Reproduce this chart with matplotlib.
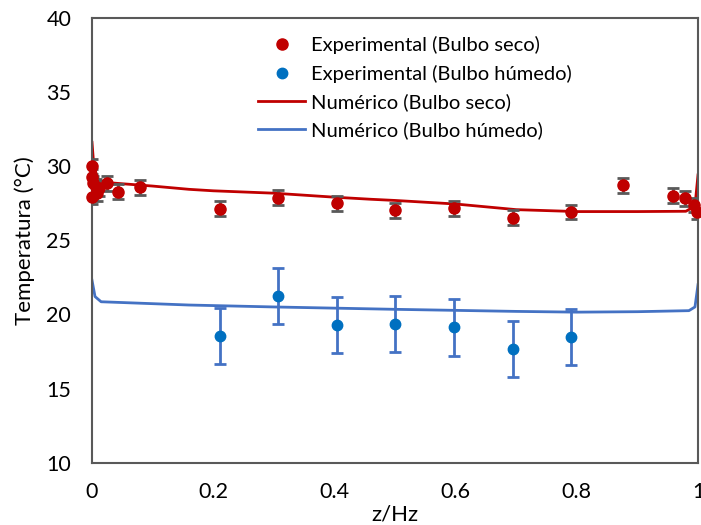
import matplotlib
matplotlib.use("Agg")
import matplotlib.pyplot as plt

plt.rcParams['font.family'] = ['Lato', 'DejaVu Sans']

# Experimental dry-bulb measurements
z_seco = [0.0, 0.0, 0.002, 0.006, 0.012, 0.0005, 0.009, 0.025, 0.043, 0.080,
          0.211, 0.307, 0.404, 0.500, 0.597, 0.694, 0.790, 0.877, 0.959, 0.978,
          0.994, 0.999]
t_seco = [29.97, 29.28, 28.83, 28.60, 28.50, 27.93, 28.16, 28.83, 28.27, 28.56,
          27.12, 27.86, 27.49, 27.03, 27.15, 26.51, 26.90, 28.70, 28.00, 27.82,
          27.37, 26.92]
err_seco = 0.5

# Experimental wet-bulb measurements
z_humedo = [0.211, 0.307, 0.404, 0.500, 0.597, 0.694, 0.790]
t_humedo = [18.54, 21.25, 19.30, 19.35, 19.12, 17.68, 18.47]
err_humedo = 1.9

# Numerical profiles
z_num_seco = [0.0, 0.003, 0.01, 0.02, 0.1, 0.16, 0.2, 0.3, 0.4, 0.46, 0.5,
              0.6, 0.7, 0.8, 0.9, 0.98, 0.995, 1.0]
t_num_seco = [31.6, 30.0, 29.1, 28.9, 28.65, 28.43, 28.33, 28.17, 27.9, 27.76,
              27.68, 27.44, 27.06, 26.93, 26.93, 26.95, 27.3, 29.4]

z_num_humedo = [0.0, 0.005, 0.015, 0.16, 0.3, 0.5, 0.7, 0.8, 0.9, 0.985,
                0.995, 1.0]
t_num_humedo = [22.3, 21.2, 20.85, 20.63, 20.5, 20.34, 20.2, 20.15, 20.18,
                20.25, 20.5, 22.0]

fig = plt.figure(figsize=(7.01, 5.25), dpi=100)
ax = fig.add_axes([92 / 701, 1 - 462.7 / 525, 606 / 701, 445 / 525])

red = '#C00000'
blue_line = '#4472C4'
blue_pt = '#0070C0'
grey = '#595959'

ax.plot(z_num_seco, t_num_seco, color=red, lw=2, zorder=2,
        label='Numérico (Bulbo seco)')
ax.plot(z_num_humedo, t_num_humedo, color=blue_line, lw=2, zorder=2,
        label='Numérico (Bulbo húmedo)')

ax.errorbar(z_seco, t_seco, yerr=err_seco, fmt='none', ecolor=grey,
            elinewidth=2, capsize=4, capthick=2, zorder=3)
ax.errorbar(z_humedo, t_humedo, yerr=err_humedo, fmt='none', ecolor=blue_line,
            elinewidth=2, capsize=4, capthick=2, zorder=3)
ax.plot(z_seco, t_seco, 'o', color=red, ms=8, zorder=4,
        label='Experimental (Bulbo seco)', clip_on=False)
ax.plot(z_humedo, t_humedo, 'o', color=blue_pt, ms=7.5, zorder=4,
        label='Experimental (Bulbo húmedo)')

ax.set_xlim(0, 1)
ax.set_ylim(10, 40)
ax.set_xticks([0, 0.2, 0.4, 0.6, 0.8, 1.0])
ax.set_xticklabels(['0', '0.2', '0.4', '0.6', '0.8', '1'])
ax.set_yticks([10, 15, 20, 25, 30, 35, 40])
ax.tick_params(length=0, labelsize=15.5, colors='black')
ax.tick_params(axis='x', pad=14)
ax.tick_params(axis='y', pad=15)
for s in ax.spines.values():
    s.set_color(grey)
    s.set_linewidth(1.5)

ax.set_xlabel('z/Hz', fontsize=16, labelpad=2)
ax.set_ylabel('Temperatura (°C)', fontsize=16, labelpad=8)

handles, labels = ax.get_legend_handles_labels()
order = [labels.index(l) for l in ['Experimental (Bulbo seco)',
                                    'Experimental (Bulbo húmedo)',
                                    'Numérico (Bulbo seco)',
                                    'Numérico (Bulbo húmedo)']]
leg = fig.legend([handles[i] for i in order], [labels[i] for i in order],
                 loc='upper left', bbox_to_anchor=(258 / 701, 1 - 36 / 525),
                 frameon=False, fontsize=14.5, handlelength=2.35,
                 handletextpad=0.3, labelspacing=0.52, borderaxespad=0,
                 borderpad=0)

fig.savefig('out.png', dpi=100)
